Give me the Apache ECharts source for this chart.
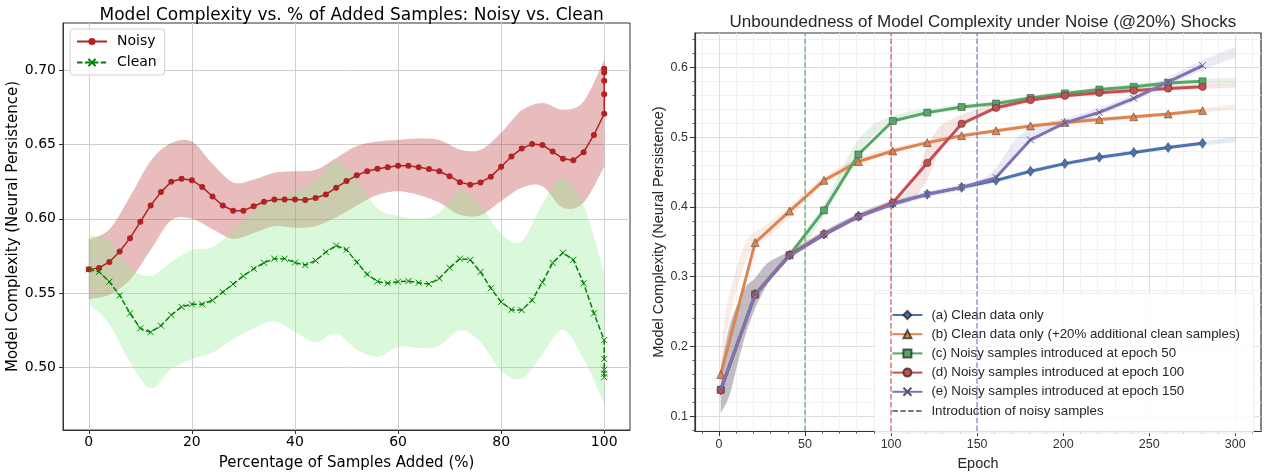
<!DOCTYPE html>
<html>
<head>
<meta charset="utf-8">
<script src="https://cdn.jsdelivr.net/npm/echarts@6/dist/echarts.min.js"></script>
<style>
  html, body { margin: 0; padding: 0; background: #fff; }
  #main { width: 1269px; height: 476px; }
</style>
</head>
<body>
<div id="main"></div>
<script>
// ---------- left panel: noisy vs clean ----------
var pctAdded = [0, 2, 4, 6, 8, 10, 12, 14, 16, 18, 20, 22, 24, 26, 28, 30, 32, 34, 36, 38, 40,
  42, 44, 46, 48, 50, 52, 54, 56, 58, 60, 62, 64, 66, 68, 70, 72, 74, 76, 78, 80,
  82, 84, 86, 88, 90, 92, 94, 96, 98, 100, 100, 100, 100, 100];
var noisyMean = [0.566, 0.567, 0.571, 0.578, 0.587, 0.598, 0.609, 0.618, 0.625, 0.627, 0.626,
  0.6215, 0.615, 0.609, 0.6055, 0.6055, 0.6085, 0.6115, 0.613, 0.613, 0.613,
  0.6127, 0.614, 0.6164, 0.621, 0.6254, 0.6293, 0.632, 0.6337, 0.6348, 0.6357,
  0.6357, 0.6348, 0.6335, 0.632, 0.6287, 0.6247, 0.623, 0.6245, 0.6284, 0.635,
  0.642, 0.6473, 0.6503, 0.6497, 0.6453, 0.6405, 0.6394, 0.6449, 0.6565, 0.6707,
  0.6838, 0.693, 0.6985, 0.701];
var cleanMean = [0.566, 0.5643, 0.5577, 0.5485, 0.5364, 0.5263, 0.5237, 0.5281, 0.5353, 0.5408, 0.5425,
  0.5425, 0.5452, 0.5507, 0.5561, 0.5616, 0.5664, 0.5704, 0.5732, 0.5732, 0.5706,
  0.5689, 0.5719, 0.5776, 0.582, 0.5792, 0.5708, 0.5627, 0.5579, 0.5566, 0.5577,
  0.5581, 0.557, 0.5561, 0.5599, 0.5671, 0.5732, 0.5724, 0.5643, 0.5533, 0.5441,
  0.5388, 0.5386, 0.5452, 0.5572, 0.5704, 0.5772, 0.5724, 0.5566, 0.5364, 0.5184,
  0.5057, 0.4985, 0.4958, 0.4934];

var bandPct = [0, 4, 8, 12, 16, 20, 24, 28, 32, 36, 40, 44, 48, 52, 56, 60, 64, 68, 72, 76, 80, 84, 88, 92, 96, 100];
var noisyLo = [0.546, 0.549, 0.559, 0.579, 0.599, 0.600, 0.593, 0.5865, 0.5905, 0.595, 0.594, 0.595, 0.601,
  0.609, 0.616, 0.6185, 0.616, 0.611, 0.6027, 0.6025, 0.612, 0.621, 0.622, 0.6075, 0.611, 0.635];
var noisyHi = [0.586, 0.593, 0.615, 0.639, 0.651, 0.652, 0.637, 0.6245, 0.6265, 0.631, 0.632, 0.633, 0.641,
  0.649, 0.652, 0.653, 0.654, 0.653, 0.6467, 0.6465, 0.658, 0.673, 0.678, 0.6735, 0.679, 0.707];
var cleanLo = [0.543, 0.529, 0.5035, 0.486, 0.499, 0.5057, 0.510, 0.519, 0.526, 0.531, 0.524, 0.517, 0.523,
  0.512, 0.507, 0.514, 0.513, 0.5145, 0.525, 0.517, 0.498, 0.4925, 0.509, 0.5254, 0.5057, 0.476];
var cleanHi = [0.589, 0.585, 0.567, 0.5616, 0.571, 0.579, 0.581, 0.592, 0.606, 0.614, 0.618, 0.626, 0.639,
  0.627, 0.607, 0.602, 0.600, 0.604, 0.619, 0.609, 0.590, 0.585, 0.610, 0.627, 0.609, 0.563];

var leftXTicks = [0, 20, 40, 60, 80, 100];
var leftYTicks = [0.50, 0.55, 0.60, 0.65, 0.70];

// ---------- right panel: noise shocks ----------
var epochs = [1, 21, 41, 61, 81, 101, 121, 141, 161, 181, 201, 221, 241, 261, 281];
var cleanOnly  = [0.138, 0.275, 0.331, 0.361, 0.387, 0.405, 0.418, 0.428, 0.438, 0.451, 0.462, 0.471, 0.478, 0.485, 0.491];
var cleanExtra = [0.160, 0.349, 0.394, 0.438, 0.465, 0.480, 0.492, 0.502, 0.509, 0.516, 0.521, 0.525, 0.529, 0.533, 0.538];
var noisy50    = [0.138, 0.275, 0.331, 0.395, 0.475, 0.523, 0.535, 0.543, 0.548, 0.556, 0.5625, 0.568, 0.572, 0.5775, 0.5798];
var noisy100   = [0.138, 0.274, 0.331, 0.361, 0.386, 0.406, 0.463, 0.519, 0.542, 0.553, 0.5593, 0.5635, 0.5667, 0.5695, 0.572];
var noisy150   = [0.139, 0.274, 0.330, 0.360, 0.386, 0.404, 0.418, 0.428, 0.442, 0.496, 0.5204, 0.5354, 0.5555, 0.579, 0.6023];

var aBandX  = [1, 6, 11, 16, 21, 26, 31, 41, 61, 81, 101, 121, 141, 161, 181, 201, 221, 241, 261, 281, 300];
var aBandLo = [0.105, 0.130, 0.178, 0.222, 0.255, 0.280, 0.300, 0.326, 0.357, 0.383, 0.401, 0.415, 0.425, 0.435, 0.448, 0.459, 0.467, 0.475, 0.482, 0.488, 0.493];
var aBandHi = [0.168, 0.228, 0.262, 0.287, 0.298, 0.314, 0.324, 0.337, 0.366, 0.391, 0.409, 0.421, 0.431, 0.441, 0.454, 0.465, 0.473, 0.481, 0.488, 0.494, 0.500];

var bBandX  = [1, 3, 6, 11, 16, 21, 31, 41, 51, 61, 81, 101, 121, 141, 161, 181, 201, 221, 241, 261, 281, 300];
var bBandLo = [0.150, 0.195, 0.240, 0.287, 0.325, 0.342, 0.362, 0.386, 0.409, 0.431, 0.460, 0.477, 0.489, 0.499, 0.506, 0.513, 0.518, 0.522, 0.526, 0.530, 0.535, 0.540];
var bBandHi = [0.175, 0.235, 0.276, 0.318, 0.352, 0.364, 0.381, 0.402, 0.423, 0.444, 0.470, 0.485, 0.495, 0.505, 0.512, 0.519, 0.524, 0.528, 0.532, 0.536, 0.541, 0.547];

var cBandX  = [1, 6, 11, 16, 21, 26, 31, 41, 51, 56, 61, 66, 71, 76, 81, 86, 91, 96, 101, 111, 121, 141, 161, 181, 201, 221, 241, 261, 281, 300];
var cBandLo = [0.105, 0.130, 0.178, 0.222, 0.255, 0.280, 0.300, 0.326, 0.350, 0.368, 0.387, 0.408, 0.430, 0.455, 0.474, 0.493, 0.505, 0.512, 0.518, 0.527, 0.531, 0.540, 0.544, 0.552, 0.559, 0.564, 0.569, 0.573, 0.576, 0.578];
var cBandHi = [0.168, 0.228, 0.262, 0.287, 0.298, 0.314, 0.324, 0.337, 0.368, 0.386, 0.405, 0.428, 0.452, 0.477, 0.496, 0.510, 0.520, 0.526, 0.530, 0.537, 0.540, 0.547, 0.551, 0.559, 0.566, 0.571, 0.576, 0.580, 0.583, 0.585];

var dBandX  = [1, 6, 11, 16, 21, 26, 31, 41, 61, 81, 101, 106, 111, 116, 121, 126, 131, 136, 141, 151, 161, 181, 201, 221, 241, 261, 281, 300];
var dBandLo = [0.105, 0.130, 0.178, 0.222, 0.255, 0.280, 0.300, 0.326, 0.357, 0.382, 0.402, 0.404, 0.408, 0.420, 0.440, 0.468, 0.494, 0.510, 0.518, 0.529, 0.537, 0.550, 0.556, 0.560, 0.563, 0.566, 0.569, 0.571];
var dBandHi = [0.168, 0.228, 0.262, 0.287, 0.298, 0.314, 0.324, 0.337, 0.366, 0.391, 0.411, 0.416, 0.428, 0.455, 0.487, 0.508, 0.520, 0.527, 0.532, 0.541, 0.547, 0.558, 0.563, 0.567, 0.570, 0.573, 0.576, 0.578];

var eBandX  = [1, 6, 11, 16, 21, 26, 31, 41, 61, 81, 101, 121, 141, 151, 156, 161, 166, 171, 176, 181, 191, 201, 221, 241, 261, 281, 300];
var eBandLo = [0.105, 0.130, 0.178, 0.222, 0.255, 0.280, 0.300, 0.326, 0.356, 0.382, 0.400, 0.414, 0.424, 0.430, 0.435, 0.441, 0.454, 0.471, 0.486, 0.496, 0.508, 0.515, 0.531, 0.551, 0.574, 0.596, 0.614];
var eBandHi = [0.168, 0.228, 0.262, 0.287, 0.298, 0.314, 0.324, 0.337, 0.365, 0.390, 0.408, 0.422, 0.432, 0.438, 0.445, 0.456, 0.474, 0.493, 0.505, 0.511, 0.521, 0.527, 0.542, 0.562, 0.586, 0.610, 0.629];

var noiseEpochs = [50, 100, 150];
var rightXTicks = [0, 50, 100, 150, 200, 250, 300];
var rightXMinor = [-10, 10, 20, 30, 40, 60, 70, 80, 90, 110, 120, 130, 140, 160, 170, 180, 190, 210, 220, 230, 240, 260, 270, 280, 290, 310];
var rightYTicks = [0.1, 0.2, 0.3, 0.4, 0.5, 0.6];
var rightYMinor = [0.08, 0.12, 0.14, 0.16, 0.18, 0.22, 0.24, 0.26, 0.28, 0.32, 0.34, 0.36, 0.38, 0.42, 0.44, 0.46, 0.48, 0.52, 0.54, 0.56, 0.58, 0.62, 0.64];

var names = ['(a) Clean data only',
  '(b) Clean data only (+20% additional clean samples)',
  '(c) Noisy samples introduced at epoch 50',
  '(d) Noisy samples introduced at epoch 100',
  '(e) Noisy samples introduced at epoch 150',
  'Introduction of noisy samples'];
var colors = ['#4c72b0', '#dd8452', '#55a868', '#c44e52', '#8172b3'];

var X_MARK = 'path://M0,0L10,10M10,0L0,10';
var LEFT_FONT = 'DejaVu Sans';
var RIGHT_FONT = 'Liberation Sans';

function pairs(xs, ys) {
  return xs.map(function (x, i) { return [x, ys[i]]; });
}

// catmull-rom through pixel points -> bezier path commands
function curve(pts, start) {
  var d = (start ? 'M' : 'L') + pts[0][0] + ' ' + pts[0][1];
  for (var i = 0; i < pts.length - 1; i++) {
    var p0 = pts[i - 1] || pts[i], p1 = pts[i], p2 = pts[i + 1], p3 = pts[i + 2] || p2;
    var c1x = p1[0] + (p2[0] - p0[0]) / 6, c1y = p1[1] + (p2[1] - p0[1]) / 6;
    var c2x = p2[0] - (p3[0] - p1[0]) / 6, c2y = p2[1] - (p3[1] - p1[1]) / 6;
    d += ' C' + c1x + ' ' + c1y + ' ' + c2x + ' ' + c2y + ' ' + p2[0] + ' ' + p2[1];
  }
  return d;
}

// shaded band between lo and hi, drawn once as a single path
function band(id, xs, lo, hi, color, opacity, xi, yi) {
  return {
    type: 'custom', name: id, xAxisIndex: xi, yAxisIndex: yi, silent: true, z: 1,
    data: xs.map(function (x, i) { return [x, lo[i], hi[i]]; }),
    encode: { x: 0, y: [1, 2] },
    renderItem: function (params, api) {
      if (params.dataIndex !== 0) return null;
      var top = [], bottom = [];
      for (var i = 0; i < xs.length; i++) {
        top.push(api.coord([xs[i], hi[i]]));
        bottom.push(api.coord([xs[i], lo[i]]));
      }
      bottom.reverse();
      return {
        type: 'path',
        shape: { pathData: curve(top, true) + ' ' + curve(bottom, false) + ' Z' },
        style: { fill: color, opacity: opacity }
      };
    }
  };
}

var series = [];
series.push(band('noisyBand', bandPct, noisyLo, noisyHi, '#b22222', 0.3, 0, 0));
series.push(band('cleanBand', bandPct, cleanLo, cleanHi, '#90ee90', 0.33, 0, 0));
series.push({
  type: 'line', name: 'Noisy', xAxisIndex: 0, yAxisIndex: 0,
  data: pairs(pctAdded, noisyMean),
  symbol: 'circle', symbolSize: 6,
  itemStyle: { color: '#b22222' },
  lineStyle: { color: '#b22222', width: 1.5 }, z: 3
});
series.push({
  type: 'line', name: 'Clean', xAxisIndex: 0, yAxisIndex: 0,
  data: pairs(pctAdded, cleanMean),
  symbol: X_MARK, symbolSize: 6,
  itemStyle: { color: 'green', borderColor: 'green', borderWidth: 1 },
  lineStyle: { color: 'green', width: 1.5, type: [5.5, 2.4] }, z: 3
});

var bands = [[aBandX, aBandLo, aBandHi], [bBandX, bBandLo, bBandHi], [cBandX, cBandLo, cBandHi],
  [dBandX, dBandLo, dBandHi], [eBandX, eBandLo, eBandHi]];
bands.forEach(function (b, i) {
  series.push(band('rb' + i, b[0], b[1], b[2], colors[i], 0.15, 1, 1));
});

var lines = [cleanOnly, cleanExtra, noisy50, noisy100, noisy150];
var symbols = ['diamond', 'triangle', 'rect', 'circle', X_MARK];
var sizes = [[7, 10], 8, 7, 7.5, 7];
lines.forEach(function (ys, i) {
  var s = {
    type: 'line', name: names[i], xAxisIndex: 1, yAxisIndex: 1,
    data: pairs(epochs, ys),
    symbol: symbols[i], symbolSize: sizes[i],
    itemStyle: { color: colors[i], borderColor: 'rgba(40,40,40,0.75)', borderWidth: 0.6 },
    lineStyle: { color: colors[i], width: 3 }, z: 3 + i
  };
  if (i === 4) s.itemStyle = { color: colors[i], borderColor: '#55556e', borderWidth: 0.9 };
  if (i >= 2) {
    s.markLine = {
      silent: true, symbol: 'none', label: { show: false },
      lineStyle: { color: colors[i], opacity: 0.7, width: 1.6, type: [5.5, 2.4] },
      data: [{ xAxis: noiseEpochs[i - 2] }]
    };
  }
  series.push(s);
});
series.push({
  type: 'line', name: names[5], xAxisIndex: 1, yAxisIndex: 1, data: [],
  symbol: 'none', itemStyle: { color: '#777' },
  lineStyle: { color: '#777', width: 1.6, type: [5.5, 2.4] }
});

var chart = echarts.init(document.getElementById('main'));
chart.setOption({
  animation: false,
  backgroundColor: '#fff',
  title: [{
    text: 'Model Complexity vs. % of Added Samples: Noisy vs. Clean',
    left: 346.7, top: 2, textAlign: 'center',
    textStyle: { fontFamily: LEFT_FONT, fontSize: 17, fontWeight: 'normal', color: '#000' }
  }, {
    text: 'Unboundedness of Model Complexity under Noise (@20%) Shocks',
    left: 977.9, top: 9, textAlign: 'center',
    textStyle: { fontFamily: RIGHT_FONT, fontSize: 17, fontWeight: 'normal', color: '#262626' }
  }],
  legend: [{
    data: ['Noisy', 'Clean'],
    orient: 'vertical', left: 70, top: 29,
    itemWidth: 30, itemHeight: 9, itemGap: 6,
    padding: [5, 8, 5, 6],
    backgroundColor: 'rgba(255,255,255,0.8)', borderColor: '#d0d0d0', borderWidth: 1, borderRadius: 3,
    textStyle: { fontFamily: LEFT_FONT, fontSize: 14, color: '#000', padding: [0, 0, 0, 5], lineHeight: 15 }
  }, {
    data: names.slice(0, 5).concat([{ name: names[5], itemStyle: { opacity: 0 } }]),
    orient: 'vertical', right: 15, bottom: 43,
    itemWidth: 30, itemHeight: 10, itemGap: 5.2,
    padding: [15, 14, 15, 17],
    backgroundColor: 'rgba(255,255,255,0.85)', borderColor: '#ececec', borderWidth: 1, borderRadius: 4,
    textStyle: { fontFamily: RIGHT_FONT, fontSize: 13.3, color: '#262626', padding: [0, 0, 0, 4], lineHeight: 14 }
  }],
  grid: [
    { left: 63, top: 23, width: 567, height: 416, show: true, borderColor: '#333', borderWidth: 1 },
    { left: 695, top: 33, width: 566, height: 406, show: true, borderColor: '#333', borderWidth: 1.2 }
  ],
  xAxis: [{
    type: 'value', gridIndex: 0, min: -5, max: 105,
    name: 'Percentage of Samples Added (%)', nameLocation: 'middle', nameGap: 26,
    nameTextStyle: { fontFamily: LEFT_FONT, fontSize: 15, color: '#000' },
    axisLine: { onZero: false, lineStyle: { color: '#333' } },
    axisTick: { customValues: leftXTicks, length: 4, lineStyle: { color: '#333' } },
    axisLabel: { customValues: leftXTicks, fontFamily: LEFT_FONT, fontSize: 14, color: '#000', margin: 5 },
    splitLine: { show: true, lineStyle: { color: '#cfcfcf', width: 1 } }
  }, {
    type: 'value', gridIndex: 1, min: -13.95, max: 314.95, position: 'bottom',
    name: 'Epoch', nameLocation: 'middle', nameGap: 24,
    nameTextStyle: { fontFamily: RIGHT_FONT, fontSize: 14.5, color: '#262626' },
    axisLine: { onZero: false, lineStyle: { color: '#333', width: 1.2 } },
    axisTick: { customValues: rightXTicks, length: 5, lineStyle: { color: '#333' } },
    axisLabel: { customValues: rightXTicks, fontFamily: RIGHT_FONT, fontSize: 12.5, color: '#333', margin: 7 },
    splitLine: { show: true, lineStyle: { color: '#dcdcdc', width: 1 } }
  }, {
    type: 'value', gridIndex: 1, min: -13.95, max: 314.95, position: 'bottom',
    axisLine: { show: false, onZero: false },
    axisTick: { customValues: rightXMinor, length: 2.5, lineStyle: { color: '#555' } },
    axisLabel: { show: false },
    splitLine: { show: true, lineStyle: { color: '#f1f1f1', width: 1 } }
  }],
  yAxis: [{
    type: 'value', gridIndex: 0, min: 0.4579, max: 0.7318,
    name: 'Model Complexity (Neural Persistence)', nameLocation: 'middle', nameGap: 34,
    nameTextStyle: { fontFamily: LEFT_FONT, fontSize: 15, color: '#000' },
    axisLine: { onZero: false, lineStyle: { color: '#333' } },
    axisTick: { customValues: leftYTicks, length: 4, lineStyle: { color: '#333' } },
    axisLabel: { customValues: leftYTicks, fontFamily: LEFT_FONT, fontSize: 14, color: '#000', margin: 7,
      formatter: function (v) { return v.toFixed(2); } },
    splitLine: { show: true, lineStyle: { color: '#cfcfcf', width: 1 } }
  }, {
    type: 'value', gridIndex: 1, min: 0.079, max: 0.649, position: 'left',
    name: 'Model Complexity (Neural Persistence)', nameLocation: 'middle', nameGap: 23,
    nameTextStyle: { fontFamily: RIGHT_FONT, fontSize: 14.5, color: '#262626' },
    axisLine: { onZero: false, lineStyle: { color: '#333', width: 1.2 } },
    axisTick: { customValues: rightYTicks, length: 5, lineStyle: { color: '#333' } },
    axisLabel: { customValues: rightYTicks, fontFamily: RIGHT_FONT, fontSize: 12.5, color: '#333', margin: 7,
      formatter: function (v) { return v.toFixed(1); } },
    splitLine: { show: true, lineStyle: { color: '#dcdcdc', width: 1 } }
  }, {
    type: 'value', gridIndex: 1, min: 0.079, max: 0.649, position: 'left',
    axisLine: { show: false, onZero: false },
    axisTick: { customValues: rightYMinor, length: 2.5, lineStyle: { color: '#555' } },
    axisLabel: { show: false },
    splitLine: { show: true, lineStyle: { color: '#f1f1f1', width: 1 } }
  }],
  series: series
});
</script>
</body>
</html>
